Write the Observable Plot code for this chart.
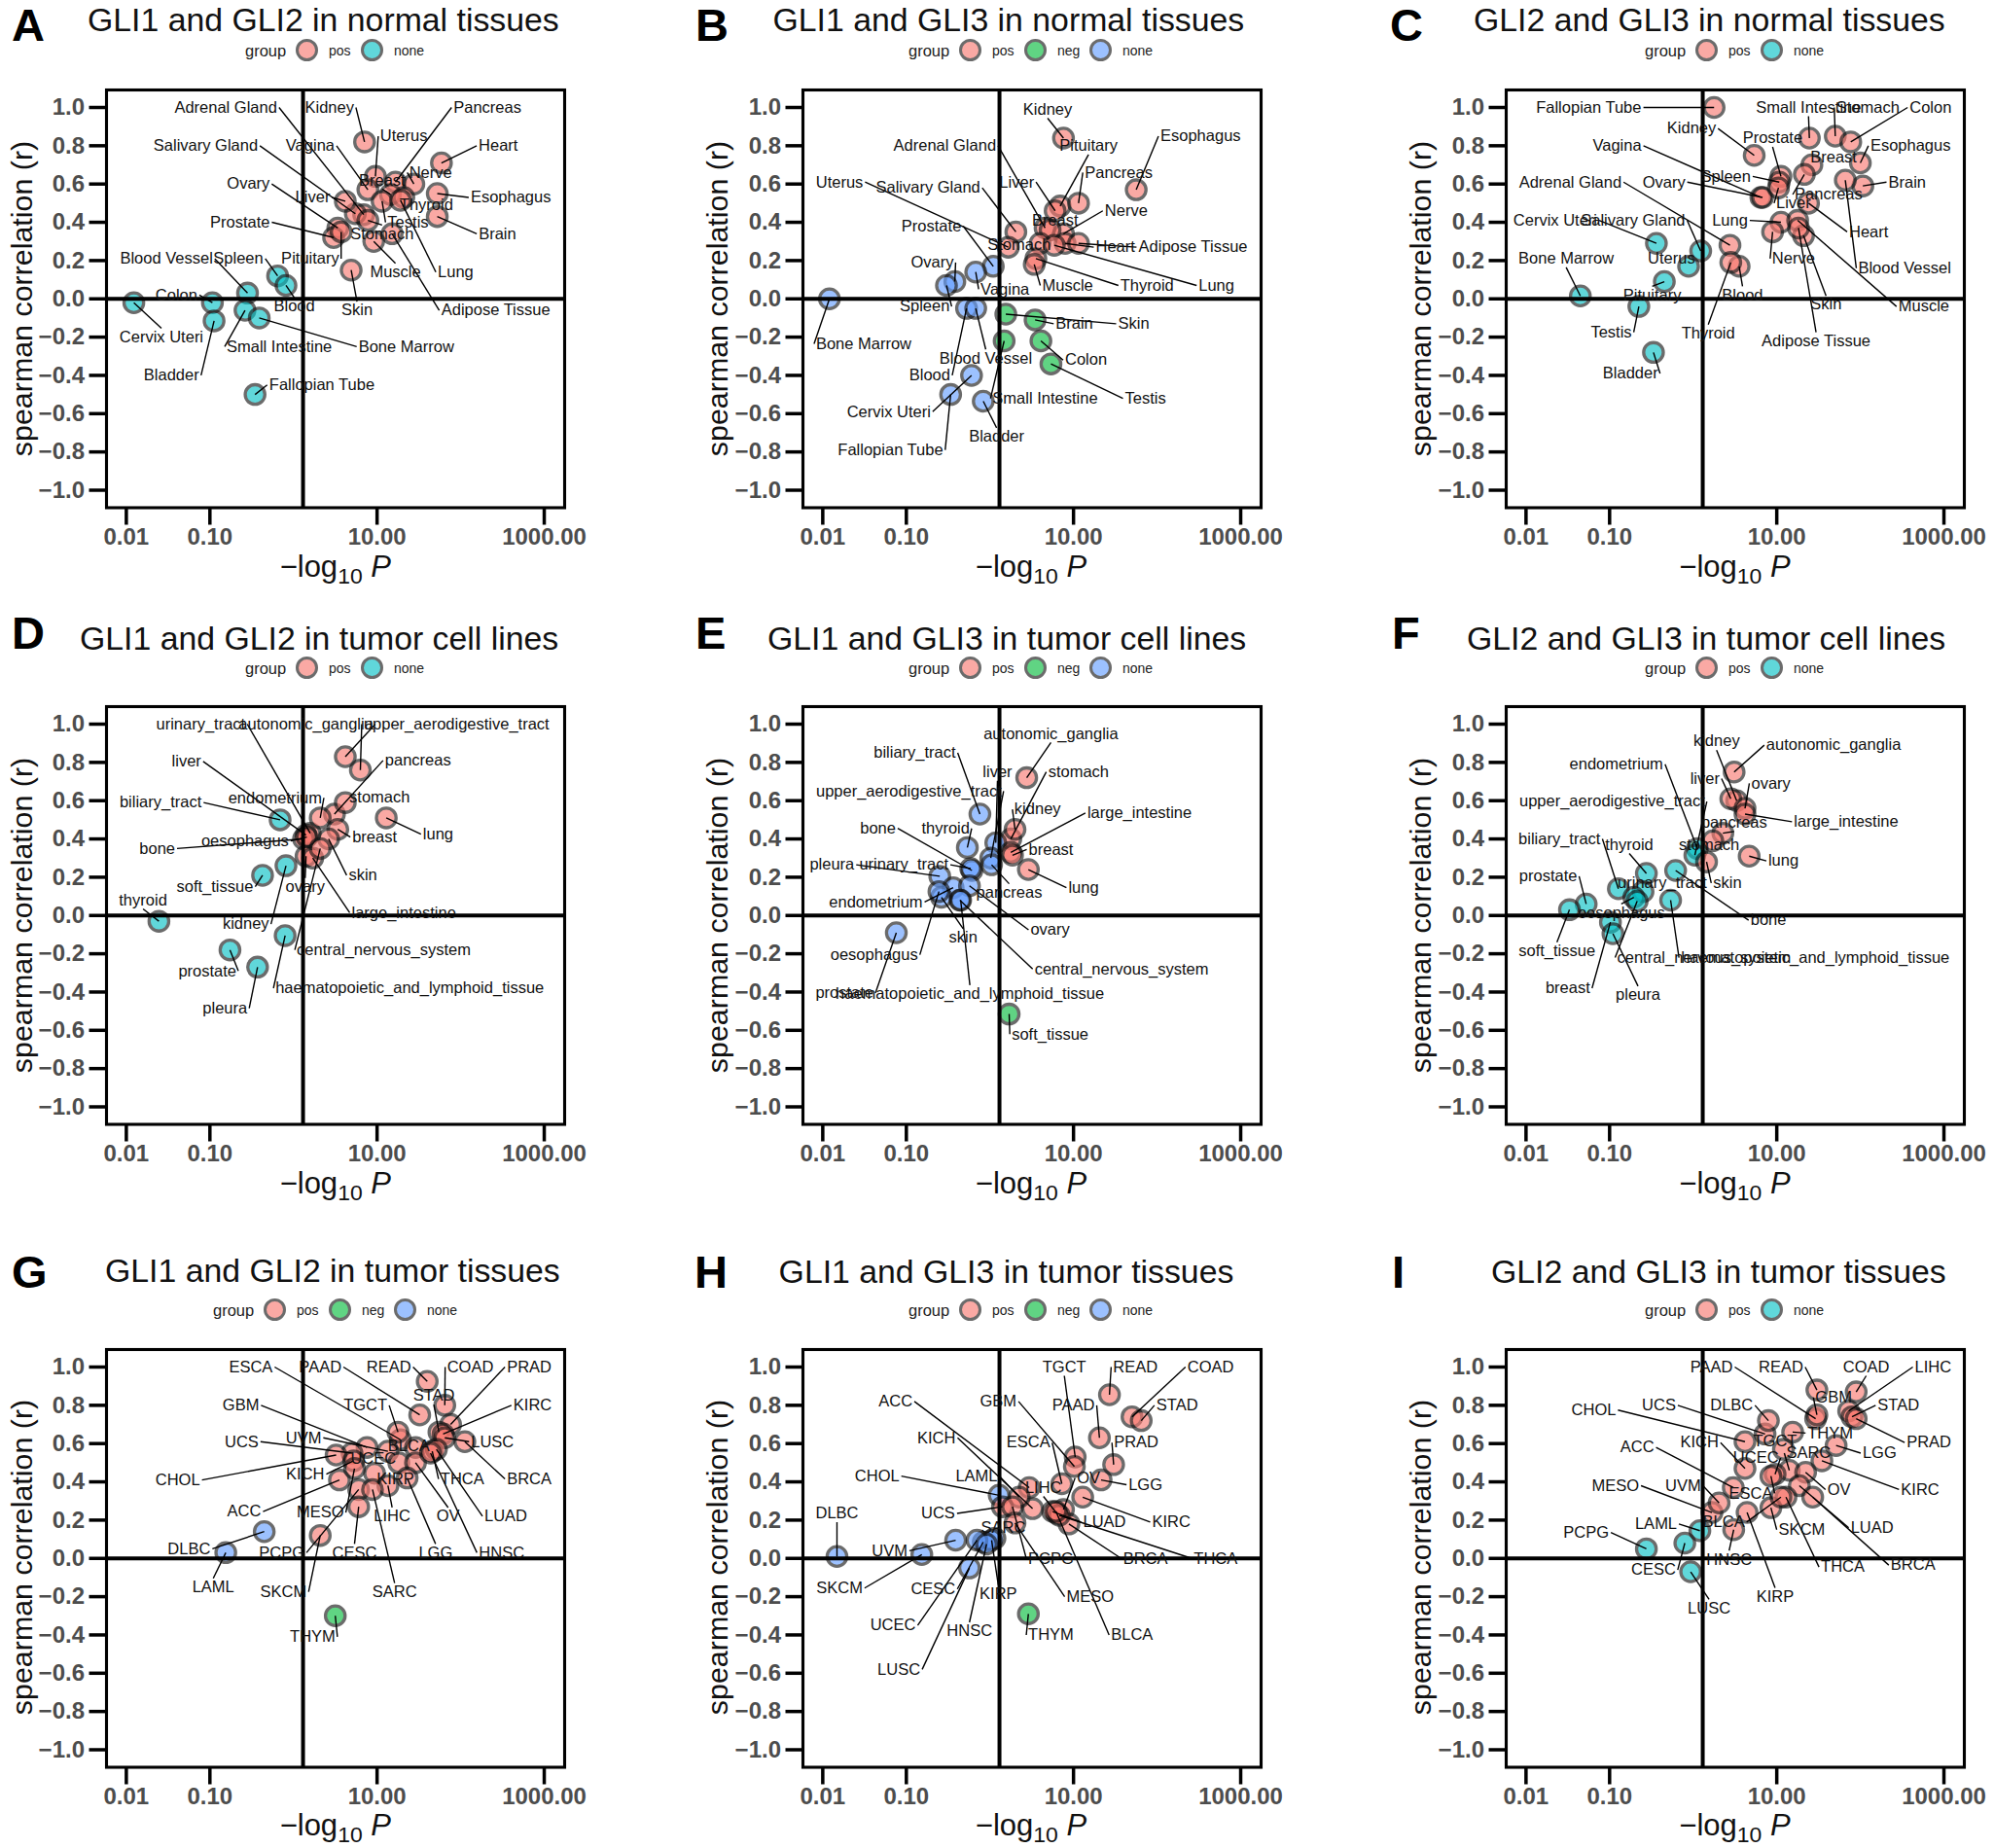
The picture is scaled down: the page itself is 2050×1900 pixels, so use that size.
<!DOCTYPE html>
<html><head><meta charset="utf-8">
<script src="https://cdn.jsdelivr.net/npm/d3@7"></script>
<script src="https://cdn.jsdelivr.net/npm/@observablehq/plot@0.6"></script>
<style>
html,body{margin:0;padding:0;background:#fff}
#root{position:relative;width:2050px;height:1900px;overflow:hidden;font-family:"Liberation Sans",Arial,sans-serif;color:#000}
#root svg{overflow:visible}
.abs{position:absolute;white-space:nowrap;line-height:1}
sub{font-size:.74em;line-height:0;vertical-align:-.32em}
</style></head><body><div id="root"></div>
<script>
// ---------- values: log10 of (-log10 P), r, and repel-label anchors in data units
const aNames=["Kidney","Uterus","Pancreas","Heart","Nerve","Breast","Adrenal Gland","Salivary Gland","Vagina","Liver","Ovary","Prostate","Pituitary","Stomach","Esophagus","Brain","Thyroid","Testis","Muscle","Lung","Adipose Tissue","Skin","Spleen","Blood Vessel","Blood","Colon","Cervix Uteri","Small Intestine","Bone Marrow","Bladder","Fallopian Tube"];
const aLogP=[.85,.98,1.22,1.77,1.44,1.16,.84,.74,.89,.62,.53,.48,.57,.89,1.72,1.72,1.32,1.06,.96,1.28,1.18,.69,-.19,-.55,-.09,-.97,-1.91,-.58,-.41,-.95,-.46];
const aR=[.82,.64,.61,.71,.60,.545,.44,.445,.57,.51,.37,.32,.35,.41,.55,.43,.53,.51,.30,.515,.34,.15,.12,.03,.07,-.02,-.02,-.06,-.10,-.115,-.50];
const aLabelLogP=[.43,1.32,2.32,2.45,1.64,1.06,-.81,-1.05,.20,.23,-.54,-.64,.20,1.06,2.60,2.44,1.59,1.37,1.22,1.94,2.42,.76,-.66,-1.52,.01,-1.40,-1.58,-.17,1.35,-1.46,.34];
const aLabelR=[1,.85,1,.80,.66,.62,1,.80,.80,.53,.60,.40,.21,.34,.53,.34,.49,.40,.14,.14,-.06,-.06,.21,.21,-.04,.02,-.20,-.25,-.25,-.40,-.45];
const aNone=["Spleen","Blood Vessel","Blood","Colon","Cervix Uteri","Small Intestine","Bone Marrow","Bladder","Fallopian Tube"];
const aNeg=[];

const bNames=["Kidney","Pituitary","Esophagus","Pancreas","Adrenal Gland","Liver","Salivary Gland","Uterus","Nerve","Breast","Prostate","Stomach","Heart","Adipose Tissue","Lung","Thyroid","Muscle","Ovary","Vagina","Spleen","Bone Marrow","Brain","Skin","Colon","Testis","Small Intestine","Blood","Blood Vessel","Cervix Uteri","Fallopian Tube","Bladder"];
const bLogP=[.88,.84,1.75,1.06,.66,.78,.31,.22,.88,.72,.04,.60,.90,1.06,.77,.55,.53,-.42,-.17,-.52,-1.92,.54,.19,.61,.73,.17,-.28,-.17,-.22,-.47,-.08];
const bR=[.84,.485,.57,.50,.37,.46,.35,.27,.34,.36,.17,.29,.29,.29,.28,.21,.18,.09,.14,.07,0,-.11,-.08,-.22,-.34,-.22,-.05,-.05,-.40,-.50,-.535];
const bLabelLogP=[.69,1.18,2.52,1.54,-.54,.32,-.74,-1.80,1.63,.78,-.70,.35,1.50,2.43,2.71,1.88,.93,-.69,.18,-.78,-1.51,1.01,1.72,1.15,1.86,.66,-.72,-.05,-1.21,-1.19,.08];
const bLabelR=[.99,.80,.85,.66,.80,.61,.58,.61,.46,.41,.38,.28,.27,.27,.07,.07,.07,.19,.05,-.04,-.235,-.13,-.13,-.32,-.52,-.52,-.40,-.31,-.59,-.79,-.72];
const bNone=["Prostate","Ovary","Vagina","Spleen","Bone Marrow","Blood","Blood Vessel","Cervix Uteri","Fallopian Tube","Bladder"];
const bNeg=["Brain","Skin","Colon","Testis","Small Intestine"];

const cNames=["Fallopian Tube","Small Intestine","Stomach","Colon","Kidney","Prostate","Vagina","Esophagus","Breast","Spleen","Adrenal Gland","Ovary","Pancreas","Brain","Blood Vessel","Liver","Heart","Lung","Cervix Uteri","Salivary Gland","Bone Marrow","Uterus","Nerve","Muscle","Skin","Adipose Tissue","Blood","Thyroid","Pituitary","Testis","Bladder"];
const cLogP=[.25,1.39,1.70,1.885,.73,1.05,.81,2.00,1.42,1.03,.44,.83,1.33,2.03,1.82,1.02,1.38,1.05,-.44,.09,-1.35,-.055,.95,1.25,1.32,1.26,.55,.45,-.345,-.65,-.475];
const cR=[1,.84,.85,.82,.75,.64,.53,.71,.70,.61,.28,.53,.65,.59,.62,.58,.50,.40,.29,.25,.015,.17,.35,.41,.33,.37,.17,.19,.09,-.04,-.28];
const cLabelLogP=[-1.25,1.38,2.09,2.84,-.02,.95,-.91,2.60,1.68,.39,-1.47,-.35,1.62,2.56,2.53,1.20,2.10,.44,-1.65,-.72,-1.52,-.26,1.20,2.76,1.59,1.47,.59,.18,-.49,-.98,-.75];
const cLabelR=[1,1,1,1,.89,.84,.80,.80,.74,.64,.61,.61,.545,.61,.16,.50,.35,.41,.41,.41,.21,.21,.21,-.04,-.03,-.22,.02,-.18,.02,-.175,-.39];
const cNone=["Cervix Uteri","Salivary Gland","Bone Marrow","Uterus","Pituitary","Testis","Bladder"];
const cNeg=[];

const dNames=["urinary_tract","autonomic_ganglia","upper_aerodigestive_tract","pancreas","liver","biliary_tract","endometrium","stomach","lung","breast","bone","oesophagus","skin","ovary","soft_tissue","thyroid","kidney","large_intestine","central_nervous_system","prostate","pleura","haematopoietic_and_lymphoid_tissue"];
const dLogP=[.20,.62,.80,.49,.15,-.16,.32,.62,1.11,.53,.12,.16,.42,.15,-.37,-1.61,-.09,.23,.32,-.76,-.43,-.10];
const dR=[.43,.83,.76,.53,.42,.50,.51,.59,.51,.45,.40,.41,.40,.31,.21,-.03,.26,.30,.35,-.18,-.27,-.105];
const dLabelLogP=[-1.11,.15,1.95,1.49,-1.28,-1.59,-.22,1.03,1.73,.97,-1.63,-.58,.83,.14,-.94,-1.80,-.57,1.32,1.08,-1.03,-.82,1.39];
const dLabelR=[1,1,1,.81,.805,.59,.615,.62,.425,.41,.35,.39,.21,.15,.15,.08,-.045,.015,-.18,-.29,-.485,-.38];
const dNone=["biliary_tract","soft_tissue","thyroid","kidney","prostate","pleura","haematopoietic_and_lymphoid_tissue"];
const dNeg=[];

const eNames=["autonomic_ganglia","stomach","biliary_tract","liver","upper_aerodigestive_tract","kidney","large_intestine","bone","thyroid","breast","pleura","urinary_tract","lung","pancreas","endometrium","ovary","skin","oesophagus","central_nervous_system","haematopoietic_and_lymphoid_tissue","prostate","soft_tissue"];
const eLogP=[.44,.25,-.12,.07,.01,.30,.25,-.215,-.27,.27,-.60,-.23,.46,.02,-.44,-.245,-.58,-.61,-.36,-.35,-1.12,.23];
const eR=[.72,.40,.53,.38,.30,.45,.33,.235,.355,.315,.205,.245,.24,.265,.145,.155,.095,.125,.08,.08,-.09,-.515];
const eLabelLogP=[.73,1.06,-.90,.09,-.97,.57,1.79,-1.34,-.53,.73,-1.89,-1.03,1.12,.23,-1.365,.72,-.32,-1.385,1.575,-.24,-1.74,.72];
const eLabelR=[.95,.75,.85,.75,.65,.555,.535,.455,.455,.345,.265,.265,.145,.12,.07,-.075,-.115,-.205,-.28,-.41,-.405,-.62];
const eNone=["biliary_tract","liver","upper_aerodigestive_tract","bone","thyroid","pleura","urinary_tract","pancreas","endometrium","ovary","skin","oesophagus","central_nervous_system","haematopoietic_and_lymphoid_tissue","prostate"];
const eNeg=["soft_tissue"];

const fNames=["kidney","autonomic_ganglia","endometrium","liver","ovary","upper_aerodigestive_tract","large_intestine","pancreas","biliary_tract","thyroid","stomach","lung","prostate","skin","urinary_tract","bone","oesophagus","central_nervous_system","haematopoietic_and_lymphoid_tissue","breast","pleura","soft_tissue"];
const fLogP=[.52,.49,.05,.45,.62,.02,.62,.355,-.895,-.56,.235,.67,-1.28,.16,-.60,-.21,-.71,-.67,-.27,-.99,-.96,-1.48];
const fR=[.60,.75,.35,.61,.56,.315,.53,.43,.14,.22,.39,.31,.06,.28,.125,.235,.095,.075,.08,-.035,-.095,.03];
const fLabelLogP=[.28,1.68,-.92,.14,.93,-.97,1.83,.49,-1.60,-.765,.19,1.08,-1.735,.41,-.37,.90,-.86,.13,1.46,-1.50,-.66,-1.63];
const fLabelR=[.91,.89,.79,.715,.69,.595,.49,.485,.40,.37,.37,.285,.205,.17,.17,-.025,.015,-.22,-.22,-.38,-.415,-.185];
const fNone=["endometrium","upper_aerodigestive_tract","biliary_tract","thyroid","prostate","urinary_tract","bone","oesophagus","central_nervous_system","haematopoietic_and_lymphoid_tissue","breast","pleura","soft_tissue"];
const fNeg=[];

const gNames=["ESCA","PAAD","READ","COAD","PRAD","STAD","GBM","TGCT","KIRC","UVM","UCS","LUSC","BLCA","UCEC","CHOL","KICH","KIRP","THCA","BRCA","ACC","MESO","LIHC","OV","LUAD","DLBC","PCPG","CESC","LGG","SARC","HNSC","LAML","SKCM","THYM"];
const gLogP=[1.28,1.51,1.60,1.81,1.88,1.74,.88,1.25,1.79,1.13,.70,1.81,1.46,.97,.51,.72,1.26,1.66,2.05,.55,.73,1.13,1.46,1.71,-.35,.78,.78,1.36,.945,1.64,-.81,.32,.50];
const gR=[.62,.75,.925,.80,.70,.66,.58,.66,.65,.56,.55,.63,.58,.445,.54,.51,.50,.56,.61,.41,.47,.38,.50,.57,.14,.36,.27,.42,.36,.55,.03,.12,-.30];
const gLabelLogP=[-.51,.32,1.14,2.115,2.82,1.68,-.63,.86,2.86,.12,-.62,2.38,1.38,.955,-1.385,.14,1.22,2.02,2.82,-.59,.32,1.18,1.85,2.54,-1.25,-.14,.73,1.70,1.21,2.49,-.96,-.12,.23];
const gLabelR=[1,1,1,1,1,.85,.80,.80,.80,.63,.61,.61,.585,.52,.41,.44,.415,.415,.415,.245,.24,.22,.22,.22,.05,.03,.03,.03,-.175,.03,-.15,-.175,-.41];
const gNone=["DLBC","LAML"];
const gNeg=["THYM"];

const hNames=["TGCT","READ","COAD","STAD","ACC","GBM","PAAD","KICH","ESCA","PRAD","CHOL","LAML","OV","LGG","LIHC","KIRC","UCS","LUAD","DLBC","SARC","PCPG","BRCA","THCA","UVM","SKCM","CESC","KIRP","MESO","BLCA","THYM","UCEC","HNSC","LUSC"];
const hLogP=[1.02,1.43,1.70,1.81,.47,1.01,1.31,.51,.86,1.48,.11,.35,.88,1.33,.80,1.11,.15,.75,-1.83,.06,.27,.945,.83,-.41,-.815,-.08,.02,.30,.79,.46,-.155,-.04,-.245];
const hR=[.53,.855,.74,.72,.37,.48,.63,.26,.39,.49,.33,.32,.255,.41,.235,.32,.27,.245,.01,.105,.27,.18,.225,.095,.02,.085,.095,.185,.245,-.29,.095,.075,-.05];
const hLabelLogP=[.89,1.74,2.64,2.24,-1.13,.10,1.00,-.64,.46,1.75,-1.35,-.16,1.18,1.86,.64,2.17,-.62,1.37,-1.83,.16,.73,1.86,2.70,-1.20,-1.80,-.68,.10,1.20,1.70,.73,-1.16,-.245,-1.09];
const hLabelR=[1,1,1,.80,.82,.82,.80,.63,.605,.605,.43,.43,.42,.385,.37,.19,.235,.19,.235,.16,0,0,0,.04,-.155,-.16,-.185,-.20,-.40,-.40,-.35,-.38,-.58];
const hNone=["CHOL","DLBC","SARC","UVM","SKCM","CESC","KIRP","UCEC","HNSC","LUSC"];
const hNeg=["THYM"];

const iNames=["PAAD","READ","COAD","LIHC","GBM","STAD","UCS","DLBC","CHOL","PRAD","THYM","TGCT","LGG","KICH","SARC","UCEC","ACC","KIRC","OV","MESO","UVM","ESCA","LUAD","BRCA","THCA","SKCM","BLCA","KIRP","HNSC","LAML","PCPG","CESC","LUSC"];
const iLogP=[1.465,1.48,1.95,1.86,1.48,1.90,.86,.90,.62,1.95,1.19,1.08,1.71,.62,1.15,.98,.48,1.54,1.345,.225,.31,.93,1.27,1.43,1.11,.93,1.05,.645,.485,.08,-.56,-.10,-.03];
const iR=[.73,.88,.87,.77,.75,.74,.65,.72,.61,.73,.66,.57,.59,.47,.46,.44,.37,.51,.45,.24,.29,.43,.38,.32,.32,.265,.32,.24,.15,.145,.05,.08,-.07];
const iLabelLogP=[.22,1.05,2.07,2.87,1.68,2.455,-.41,.46,-1.19,2.82,1.64,.98,2.23,.075,1.38,.75,-.67,2.715,1.745,-.93,-.12,.69,2.14,2.63,1.79,1.30,.365,.98,.43,-.445,-1.28,-.475,.19];
const iLabelR=[1,1,1,1,.84,.80,.80,.80,.775,.605,.655,.615,.55,.605,.55,.525,.58,.36,.36,.38,.38,.34,.16,-.035,-.045,.15,.19,-.20,-.005,.18,.135,-.06,-.26];
const iNone=["LAML","PCPG","CESC","LUSC"];
const iNeg=[];

const xTicks=[0.01,0.1,10,1000];
const yTicks=[-1,-.8,-.6,-.4,-.2,0,.2,.4,.6,.8,1];
const significanceLine=1.301; // -log10(0.05)
const groupNames=["pos","neg","none"];

// ---------- styles and layout
const colours={pos:"#F8766D",neg:"#00BA38",noneThree:"#619CFF",noneTwo:"#00BFC4"};
const W=471,H=429.5,ML=95,MR=35,MT=10,MB=50;
const logDomain=[-2.237,3.244], rDomain=[-1.0915,1.0915];
const frameLefts=[109.3,824.5,1548], frameTops=[92,726.2,1386.7];
const axisTitleX=[22,737,1460];
const panels=[
 {id:"A",title:"GLI1 and GLI2 in normal tissues",n:aNames,p:aLogP,r:aR,lp:aLabelLogP,lr:aLabelR,none:aNone,neg:aNeg,col:0,row:0,tx:90,ty:20.5,lx:12,ly:25,legX:252,legY:52,three:false},
 {id:"B",title:"GLI1 and GLI3 in normal tissues",n:bNames,p:bLogP,r:bR,lp:bLabelLogP,lr:bLabelR,none:bNone,neg:bNeg,col:1,row:0,tx:794.5,ty:20.5,lx:715,ly:25,legX:934,legY:52,three:true},
 {id:"C",title:"GLI2 and GLI3 in normal tissues",n:cNames,p:cLogP,r:cR,lp:cLabelLogP,lr:cLabelR,none:cNone,neg:cNeg,col:2,row:0,tx:1515,ty:20.5,lx:1429,ly:25,legX:1691,legY:52,three:false},
 {id:"D",title:"GLI1 and GLI2 in tumor cell lines",n:dNames,p:dLogP,r:dR,lp:dLabelLogP,lr:dLabelR,none:dNone,neg:dNeg,col:0,row:1,tx:82,ty:657,lx:12,ly:650,legX:252,legY:687,three:false},
 {id:"E",title:"GLI1 and GLI3 in tumor cell lines",n:eNames,p:eLogP,r:eR,lp:eLabelLogP,lr:eLabelR,none:eNone,neg:eNeg,col:1,row:1,tx:789,ty:657,lx:715,ly:650,legX:934,legY:687,three:true},
 {id:"F",title:"GLI2 and GLI3 in tumor cell lines",n:fNames,p:fLogP,r:fR,lp:fLabelLogP,lr:fLabelR,none:fNone,neg:fNeg,col:2,row:1,tx:1508,ty:657,lx:1431,ly:650,legX:1691,legY:687,three:false},
 {id:"G",title:"GLI1 and GLI2 in tumor tissues",n:gNames,p:gLogP,r:gR,lp:gLabelLogP,lr:gLabelR,none:gNone,neg:gNeg,col:0,row:2,tx:108,ty:1307,lx:12,ly:1307,legX:219,legY:1347,three:true},
 {id:"H",title:"GLI1 and GLI3 in tumor tissues",n:hNames,p:hLogP,r:hR,lp:hLabelLogP,lr:hLabelR,none:hNone,neg:hNeg,col:1,row:2,tx:800.6,ty:1308,lx:714,ly:1307,legX:934,legY:1347,three:true},
 {id:"I",title:"GLI2 and GLI3 in tumor tissues",n:iNames,p:iLogP,r:iR,lp:iLabelLogP,lr:iLabelR,none:iNone,neg:iNeg,col:2,row:2,tx:1533,ty:1308,lx:1431,ly:1307,legX:1691,legY:1347,three:false}
];
const FONT='"Liberation Sans",Arial,sans-serif';
const labelSize=16.5;
const ctx=document.createElement("canvas").getContext("2d");
ctx.font=`${labelSize}px "Liberation Sans"`;
const pxPerLog=W/(logDomain[1]-logDomain[0]), pxPerR=H/(rDomain[1]-rDomain[0]);

// ggrepel-style leader: from the point to the nearest edge midpoint of the label box
function leader(d){
  const hw=ctx.measureText(d.name).width/2+2, hh=9;
  const dx=(d.lg-d.llg)*pxPerLog, dy=(d.r-d.lr)*pxPerR;
  const inside=Math.abs(dx)<hw&&Math.abs(dy)<hh;
  const c=[[hw,0],[-hw,0],[0,hh],[0,-hh]].map(([a,b])=>({a,b,dist:Math.hypot(dx-a,dy-b)}));
  const best=c.reduce((m,e)=>e.dist<m.dist?e:m);
  return {...d,hide:inside||best.dist<9,elg:d.llg+best.a/pxPerLog,er:d.lr+best.b/pxPerR};
}
const root=document.getElementById("root");
function put(cls,html,css){const e=document.createElement("div");e.className="abs "+(cls||"");e.innerHTML=html;e.style.cssText+=css;root.appendChild(e);return e;}

for(const P of panels){
  const noneCol=P.three?colours.noneThree:colours.noneTwo;
  const data=P.n.map((name,i)=>({name,lg:P.p[i],r:P.r[i],llg:P.lp[i],lr:P.lr[i],
     group:P.none.includes(name)?"none":P.neg.includes(name)?"neg":"pos"})).map(leader);
  const fx=frameLefts[P.col], fy=frameTops[P.row];
  const plot=Plot.plot({
    width:W+ML+MR,height:H+MT+MB,marginLeft:ML,marginRight:MR,marginTop:MT,marginBottom:MB,
    style:{fontFamily:FONT,background:"transparent",overflow:"visible",position:"absolute",left:(fx-ML)+"px",top:(fy-MT)+"px"},
    x:{type:"log",domain:logDomain.map(v=>10**v)},
    y:{domain:rDomain},
    color:{domain:["pos","neg","none"],range:[colours.pos,colours.neg,noneCol]},
    marks:[
      Plot.dot(data,{x:d=>10**d.lg,y:"r",fill:"group",stroke:"#111",strokeWidth:3.3,r:10.1,opacity:.62}),
      Plot.ruleX([significanceLine],{stroke:"#000",strokeWidth:4}),
      Plot.ruleY([0],{stroke:"#000",strokeWidth:4}),
      Plot.link(data.filter(d=>!d.hide),{x1:d=>10**d.lg,y1:"r",x2:d=>10**d.elg,y2:"er",stroke:"#000",strokeWidth:1.4}),
      Plot.text(data,{x:d=>10**d.llg,y:"lr",text:"name",fontSize:labelSize,fill:"#111",textAnchor:"middle",lineAnchor:"middle"}),
      Plot.frame({stroke:"#000",strokeWidth:3.1}),
      Plot.axisX(xTicks,{anchor:"bottom",label:null,tickSize:18,tickPadding:2.5,fontSize:24,fontWeight:700,fill:"#4d4d4d",stroke:"#000",strokeWidth:3.5,tickFormat:d=>d.toFixed(2)}),
      Plot.axisY(yTicks,{anchor:"left",label:null,tickSize:17.5,tickPadding:5,fontSize:24,fontWeight:700,fill:"#4d4d4d",stroke:"#000",strokeWidth:3.5,tickFormat:d=>(d<0?"\u2212":"")+Math.abs(d).toFixed(1)})
    ]
  });
  root.appendChild(plot);
  // panel letter, title
  put("",P.id,`left:${P.lx}px;top:${P.ly}px;transform:translateY(-50%);font-size:47px;font-weight:700;`);
  put("",P.title,`left:${P.tx}px;top:${P.ty}px;transform:translateY(-50%);font-size:33.8px;color:#111;`);
  // axis titles
  put("",'spearman correlation (r)',`left:${axisTitleX[P.col]}px;top:${fy+H/2}px;transform:translate(-50%,-50%) rotate(-90deg);font-size:30.4px;color:#111;`);
  put("",'\u2212log<sub>10</sub> <i>P</i>',`left:${fx+W/2}px;top:${fy+H+60}px;transform:translate(-50%,-50%);font-size:31px;color:#111;`);
  // legend
  put("","group",`left:${P.legX}px;top:${P.legY}px;transform:translateY(-50%);font-size:16.5px;color:#222;`);
  const keys=groupNames.filter(g=>P.three||g!=="neg");
  keys.forEach((g,i)=>{
    const cx=P.legX+64+i*67, col=g==="none"?noneCol:colours[g];
    const sw=document.createElement("div");
    sw.className="abs";
    sw.style.cssText=`left:${cx-12}px;top:${P.legY-12}px;width:17.4px;height:17.4px;border:3.3px solid #111;border-radius:50%;opacity:.62;background:${col};`;
    root.appendChild(sw);
    put("",g,`left:${cx+22}px;top:${P.legY}px;transform:translateY(-50%);font-size:14px;color:#222;`);
  });
}
</script></body></html>
